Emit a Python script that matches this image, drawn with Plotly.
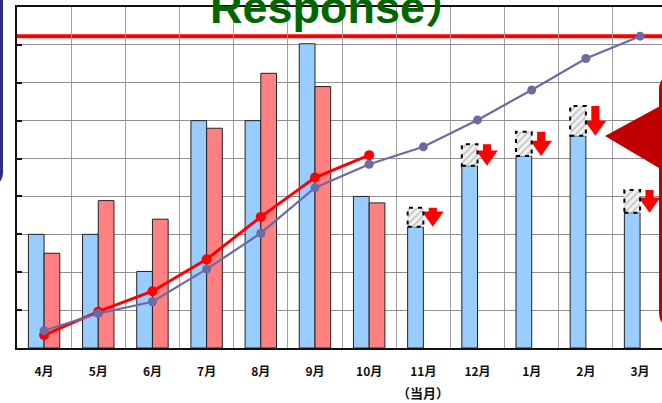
import plotly.graph_objects as go

# ---------------- data ----------------
MONTHS = ["4月", "5月", "6月", "7月", "8月", "9月", "10月",
          "11月", "12月", "1月", "2月", "3月"]
SUBLABEL = "（当月）"
SUBLABEL_INDEX = 7
BLUE_BARS = [3.0, 3.0, 2.02, 6.0, 6.0, 8.03, 4.0, 3.2, 4.81, 5.07, 5.6, 3.57]
RED_BARS = [2.5, 3.89, 3.4, 5.8, 7.25, 6.9, 3.83, None, None, None, None, None]
HATCH_TOP = [None, None, None, None, None, None, None, 3.7, 5.38, 5.71, 6.39, 4.17]
RED_LINE = [0.34, 0.96, 1.5, 2.34, 3.46, 4.5, 5.09, None, None, None, None, None]
PURPLE_LINE = [0.46, 0.91, 1.22, 2.08, 3.03, 4.23, 4.85, 5.31, 6.02, 6.81, 7.64, 8.23]
TARGET = 8.23
TITLE = "Response）"

# ---------------- geometry helpers (decoration only) ----------------
W, H = 662, 403
L, R, T, B = 17, 0, 7, 55
PW, PH = W - L - R, H - T - B


def pxx(v):
    return (v - L) / PW


def pxy(v):
    return (H - B - v) / PH


xs = list(range(len(MONTHS)))
BAR_W = 0.29

fig = go.Figure()

fig.add_bar(x=xs, y=BLUE_BARS, offsetgroup="a",
            marker=dict(color="#99CCFF", line=dict(color="#222222", width=1)))
fig.add_bar(x=xs, y=RED_BARS, offsetgroup="b",
            marker=dict(color="#FF8080", line=dict(color="#222222", width=1)))

hatch_h = [(t - b) if t is not None else None for t, b in zip(HATCH_TOP, BLUE_BARS)]
fig.add_bar(x=xs, y=hatch_h, base=BLUE_BARS, offsetgroup="a",
            marker=dict(color="#F2F2F2",
                        pattern=dict(shape="/", fgcolor="#9A9A9A", bgcolor="#F2F2F2",
                                     size=5, solidity=0.35),
                        line=dict(width=0)))

# dashed outline of hatched boxes
for i, (t, b) in enumerate(zip(HATCH_TOP, BLUE_BARS)):
    if t is None:
        continue
    fig.add_shape(type="rect", xref="x", yref="y", x0=i - BAR_W, x1=i, y0=b, y1=t,
                  line=dict(color="black", width=2, dash="4px,5px"), layer="above")

# red down arrows beside hatched boxes
ax, ay = [], []
OFF, SW, HW, HL = 0.175, 0.075, 0.2, 0.4
for i, (t, b) in enumerate(zip(HATCH_TOP, BLUE_BARS)):
    if t is None:
        continue
    c = i + OFF
    hs = b + HL
    ax += [c - SW, c + SW, c + SW, c + HW, c, c - HW, c - SW, c - SW, None]
    ay += [t, t, hs, hs, b, hs, hs, t, None]
fig.add_scatter(x=ax, y=ay, mode="lines", fill="toself", fillcolor="#FF0000",
                line=dict(width=0, color="#FF0000"), hoverinfo="skip")

fig.add_scatter(x=xs, y=RED_LINE, mode="lines+markers",
                line=dict(color="#FF0000", width=3),
                marker=dict(color="#FF0000", size=10))
fig.add_scatter(x=xs, y=PURPLE_LINE, mode="lines+markers",
                line=dict(color="#6B6BA3", width=2.2),
                marker=dict(color="#6B6BA3", size=9))

# target line
fig.add_shape(type="line", xref="paper", yref="y", x0=0, x1=1, y0=TARGET, y1=TARGET,
              line=dict(color="#FF0000", width=4), layer="between")

# left navy box edge
fig.add_shape(type="path", xref="paper", yref="paper",
              path=f"M {pxx(1.5)},{pxy(-10)} L {pxx(1.5)},{pxy(172)} "
                   f"Q {pxx(1.5)},{pxy(183)} {pxx(-9)},{pxy(183)}",
              line=dict(color="#2B2F7E", width=3))
# right callout
fig.add_shape(type="path", xref="paper", yref="paper",
              path=f"M {pxx(670)},{pxy(78)} Q {pxx(660.5)},{pxy(78)} {pxx(660.5)},{pxy(90)} "
                   f"L {pxx(660.5)},{pxy(312)} Q {pxx(660.5)},{pxy(324)} {pxx(670)},{pxy(324)}",
              line=dict(color="#C00000", width=3))
fig.add_shape(type="path", xref="paper", yref="paper",
              path=f"M {pxx(605)},{pxy(136)} L {pxx(664)},{pxy(104)} L {pxx(664)},{pxy(171)} Z",
              fillcolor="#C00000", line=dict(width=0))

fig.add_annotation(xref="paper", yref="paper", x=pxx(208), y=pxy(35),
                   xanchor="left", yanchor="bottom", showarrow=False,
                   text=f"<b>{TITLE}</b>",
                   font=dict(family="Liberation Sans, Arial, Noto Sans CJK JP",
                             size=45, color="#006600"))

TICKFONT = dict(family="Noto Sans CJK JP", size=12, color="#111111", weight="bold")
fig.add_annotation(xref="x", yref="paper", x=SUBLABEL_INDEX, y=pxy(393),
                   xanchor="center", yanchor="middle", showarrow=False,
                   text=SUBLABEL, font=dict(TICKFONT, size=13))

fig.update_layout(
    width=W, height=H, margin=dict(l=L, r=R, t=T, b=B, pad=0),
    paper_bgcolor="white", plot_bgcolor="white", showlegend=False,
    barmode="group", bargap=0.42, bargroupgap=0,
    xaxis=dict(range=[-0.5, -0.5 + PW / 54.18], tickmode="array", tickvals=xs,
               ticktext=MONTHS, showgrid=False, zeroline=False,
               showline=True, linecolor="#111111", linewidth=2, mirror=True,
               ticks="", ticklabelstandoff=12,
               tickfont=TICKFONT,
               minor=dict(tickmode="array", tickvals=[i + 0.5 for i in range(-1, 12)],
                          showgrid=True, gridcolor="#A0A0A0", gridwidth=1.3)),
    yaxis=dict(range=[0, 9], dtick=1, showticklabels=False, showgrid=True,
               gridcolor="#909090", gridwidth=1.3, zeroline=False,
               showline=True, linecolor="#111111", linewidth=2,
               ticks="inside", ticklen=5, tickcolor="#111111", tickwidth=1.5),
)

fig.write_html("out.html", config={"displayModeBar": False},
               post_script="document.body.style.margin='0px';"
                           "document.body.style.overflow='hidden';")
